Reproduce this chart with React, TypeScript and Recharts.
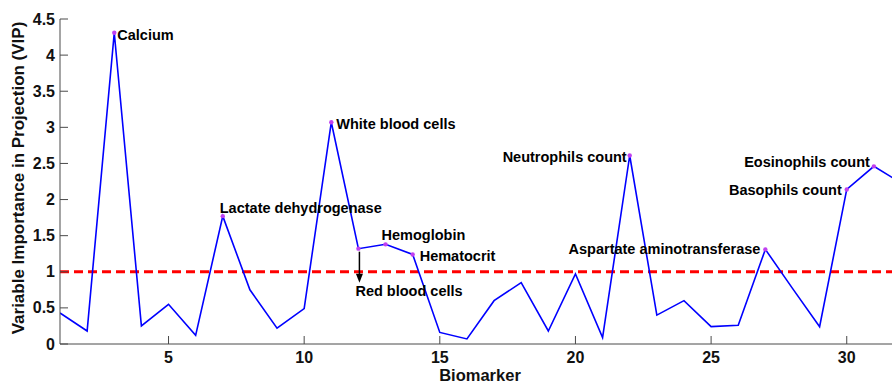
import React from "react";
import { Line, LineChart, ReferenceLine, XAxis, YAxis } from "recharts";

const biomarkers = [
  1, 2, 3, 4, 5, 6, 7, 8, 9, 10, 11, 12, 13, 14, 15, 16, 17, 18, 19, 20, 21, 22, 23, 24, 25, 26, 27, 28, 29,
  30, 31, 32,
];
const vipScores = [
  0.43, 0.18, 4.31, 0.25, 0.55, 0.12, 1.77, 0.75, 0.22, 0.49, 3.07, 1.32, 1.38, 1.24, 0.16, 0.07, 0.6, 0.85,
  0.18, 0.97, 0.09, 2.61, 0.4, 0.6, 0.24, 0.26, 1.31, 0.77, 0.24, 2.14, 2.46, 2.23,
];
const xTicks = [5, 10, 15, 20, 25, 30];
const yTicks = [0, 0.5, 1, 1.5, 2, 2.5, 3, 3.5, 4, 4.5];
const vipThreshold = 1;

const annotatedBiomarkers = [3, 7, 11, 12, 13, 14, 22, 27, 30, 31];
const annotationNames = [
  "Calcium",
  "Lactate dehydrogenase",
  "White blood cells",
  "Red blood cells",
  "Hemoglobin",
  "Hematocrit",
  "Neutrophils count",
  "Aspartate aminotransferase",
  "Basophils count",
  "Eosinophils count",
];

// text placement relative to each marker (same order as annotationNames)
const labelPlacement: { anchor: "start" | "end"; dx: number; dy: number; arrow?: boolean }[] = [
  { anchor: "start", dx: 3, dy: 7 },
  { anchor: "start", dx: -3, dy: -3 },
  { anchor: "start", dx: 5, dy: 7 },
  { anchor: "start", dx: -3, dy: 47, arrow: true },
  { anchor: "start", dx: -4, dy: -4 },
  { anchor: "start", dx: 7, dy: 7 },
  { anchor: "end", dx: -3, dy: 6 },
  { anchor: "end", dx: -5, dy: 5 },
  { anchor: "end", dx: -5, dy: 6 },
  { anchor: "end", dx: -4, dy: 1 },
];

const data = biomarkers.map((b, i) => ({ biomarker: b, vip: vipScores[i] }));

const FONT = "Liberation Sans, Arial, sans-serif";
const AXIS = "#4a4a4a";

function YTick(props: any) {
  const { x, y, payload } = props;
  return (
    <g>
      <line x1={x} x2={x + 8} y1={y} y2={y} stroke={AXIS} strokeWidth={1} />
      <text x={x - 5} y={y} textAnchor="end" dominantBaseline="central" fontFamily={FONT} fontSize={16} fontWeight="bold" fill="#111">
        {payload.value}
      </text>
    </g>
  );
}

function XTick(props: any) {
  const { x, y, payload } = props;
  return (
    <g>
      <line x1={x} x2={x} y1={y} y2={y - 8} stroke={AXIS} strokeWidth={1} />
      <text x={x} y={y + 19} textAnchor="middle" fontFamily={FONT} fontSize={16} fontWeight="bold" fill="#111">
        {payload.value}
      </text>
    </g>
  );
}

function TopTick(props: any) {
  const { x, y } = props;
  return <line x1={x} x2={x} y1={y} y2={y + 8} stroke={AXIS} strokeWidth={1} />;
}

function AnnotatedDot(props: any) {
  const { cx, cy, payload, index } = props;
  const k = annotatedBiomarkers.indexOf(payload.biomarker);
  if (k < 0) return <g key={`dot-${index}`} />;
  const p = labelPlacement[k];
  return (
    <g key={`dot-${index}`}>
      <circle cx={cx} cy={cy} r={2.2} fill="#c040f0" />
      {p.arrow ? (
        <g>
          <line x1={cx + 1} x2={cx + 1} y1={cy + 3} y2={cy + 27} stroke="#000" strokeWidth={1.5} />
          <polygon points={`${cx - 2.5},${cy + 25} ${cx + 4.5},${cy + 25} ${cx + 1},${cy + 34}`} fill="#000" />
        </g>
      ) : null}
      <text
        x={cx + p.dx}
        y={cy + p.dy}
        textAnchor={p.anchor}
        fontFamily={FONT}
        fontSize={14.5}
        fontWeight="bold"
        fill="#000"
      >
        {annotationNames[k]}
      </text>
    </g>
  );
}

export default function App() {
  return (
    <div style={{ position: "absolute", left: 0, top: 0, width: 892, height: 384, overflow: "hidden", background: "#fff" }}>
      <LineChart width={901} height={384} data={data} margin={{ top: 19, right: 0, bottom: 0, left: 0 }}>
        <XAxis
          xAxisId="top"
          orientation="top"
          type="number"
          dataKey="biomarker"
          domain={[1, 32]}
          ticks={xTicks}
          height={0}
          stroke={AXIS}
          tickLine={false}
          tickSize={0}
          tickMargin={0}
          tick={<TopTick />}
          allowDataOverflow
        />
        <XAxis
          type="number"
          dataKey="biomarker"
          domain={[1, 32]}
          ticks={xTicks}
          height={40}
          stroke={AXIS}
          tickLine={false}
          tickSize={0}
          tickMargin={0}
          tick={<XTick />}
          allowDataOverflow
          label={{
            content: () => (
              <text x={480} y={381} textAnchor="middle" fontFamily={FONT} fontSize={16.5} fontWeight="bold" fill="#111">
                Biomarker
              </text>
            ),
          }}
        />
        <YAxis
          type="number"
          domain={[0, 4.5]}
          ticks={yTicks}
          width={60}
          stroke={AXIS}
          tickLine={false}
          tickSize={0}
          tickMargin={0}
          tick={<YTick />}
          label={{
            content: () => (
              <text
                x={18}
                y={178}
                transform="rotate(-90, 18, 178)"
                textAnchor="middle"
                dominantBaseline="central"
                fontFamily={FONT}
                fontSize={17}
                fontWeight="bold"
                fill="#111"
              >
                Variable Importance in Projection (VIP)
              </text>
            ),
          }}
        />
        <ReferenceLine y={vipThreshold} stroke="#ff0000" strokeWidth={3} strokeDasharray="9 5" />
        <Line
          type="linear"
          dataKey="vip"
          stroke="#0000ff"
          strokeWidth={1.6}
          dot={AnnotatedDot}
          activeDot={false}
          isAnimationActive={false}
        />
      </LineChart>
    </div>
  );
}
